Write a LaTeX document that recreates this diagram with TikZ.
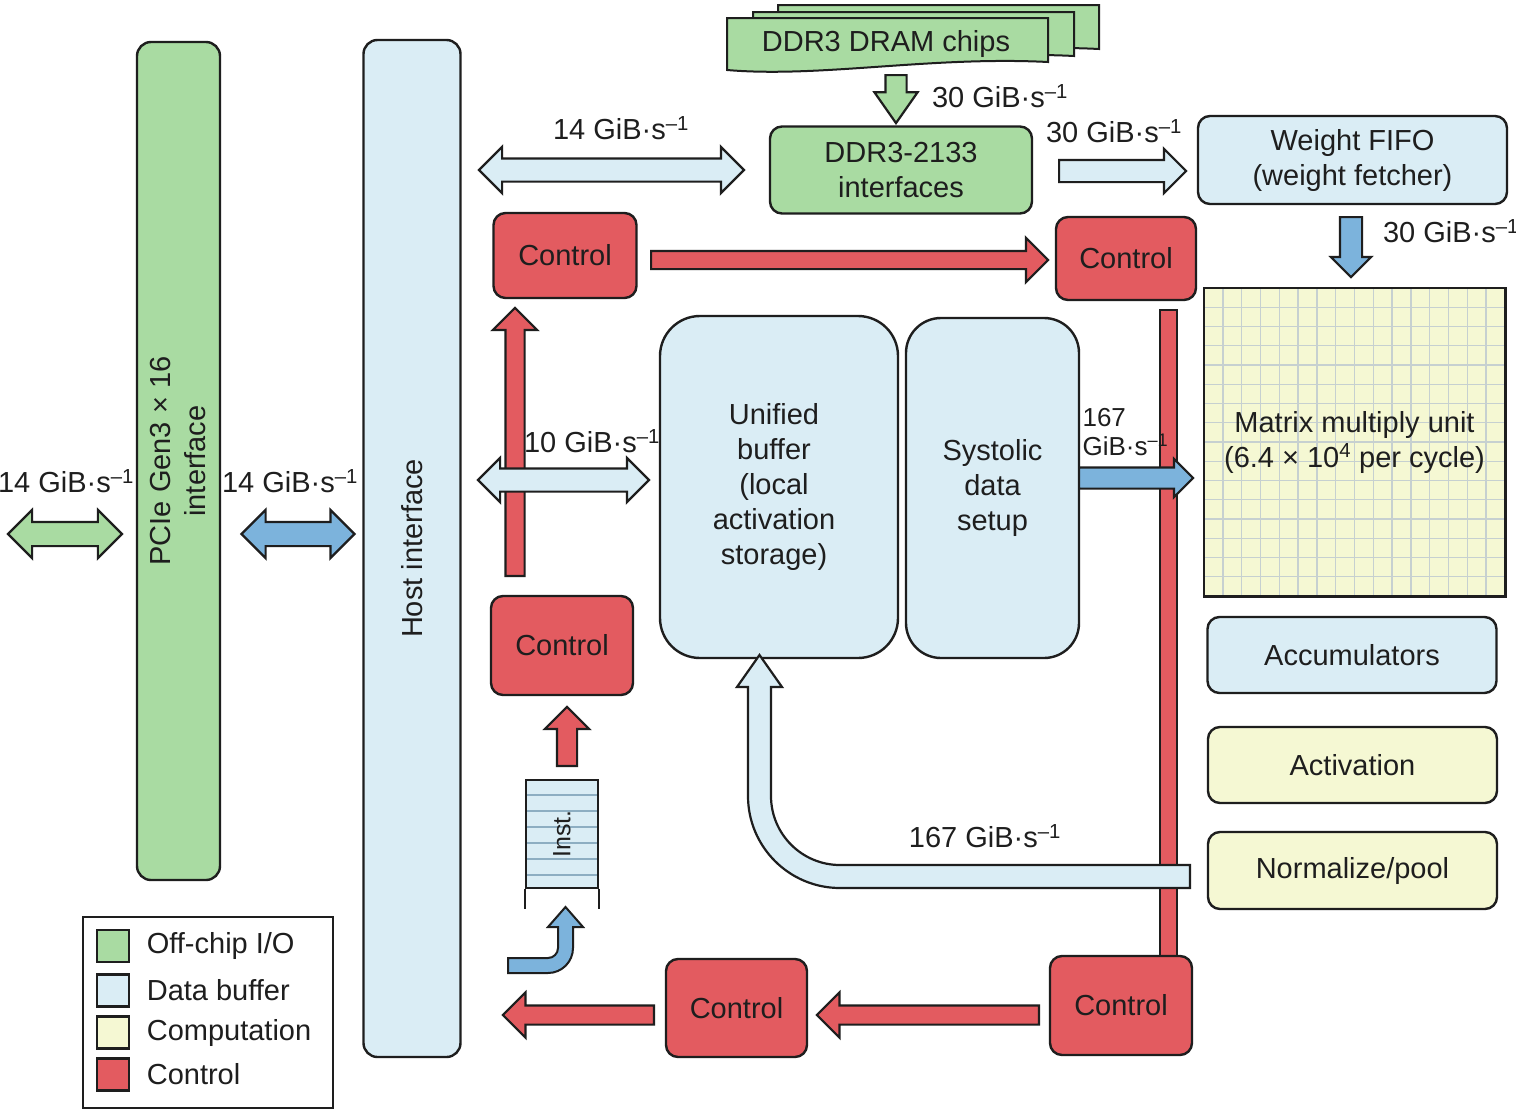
\documentclass[tikz,border=0pt]{standalone}
\usepackage{fontspec}
\setmainfont{Liberation Sans}
\usepackage{xcolor}
\usepackage{tikz}
\usetikzlibrary{arrows.meta,positioning,shapes.arrows}

\definecolor{iogreen}{HTML}{A9DBA2}
\definecolor{bufblue}{HTML}{DAEDF5}
\definecolor{flowblue}{HTML}{7CB3DC}
\definecolor{compyel}{HTML}{F5F8D3}
\definecolor{ctlred}{HTML}{E35B60}
\definecolor{ink}{HTML}{1E1E1E}
\definecolor{gridln}{HTML}{C6D0D0}
\definecolor{instln}{HTML}{8DAEC2}

\newcommand{\rate}[1]{#1 GiB·s\textsuperscript{–1}}

\begin{document}
\begin{tikzpicture}[x=1pt, y=-1pt,
    every node/.style={font=\fontsize{29}{35}\selectfont, text=ink},
    blockbox/.style={draw=ink, line width=2.4pt, rounded corners=12pt, align=center, inner sep=0pt},
    iobox/.style={blockbox, fill=iogreen},
    bufbox/.style={blockbox, fill=bufblue},
    compbox/.style={blockbox, fill=compyel},
    ctlbox/.style={blockbox, fill=ctlred, minimum width=141pt, minimum height=98pt},
    fat/.style={draw=ink, line width=2.2pt, single arrow, inner xsep=0pt, inner ysep=9pt, single arrow head extend=13pt, anchor=tail},
    fatboth/.style={draw=ink, line width=2.2pt, double arrow, inner xsep=0pt, inner ysep=11pt, double arrow head extend=11pt},
    legsq/.style={draw=ink, line width=2.6pt, minimum width=32pt, minimum height=32pt, inner sep=0pt}]

  \path[use as bounding box, fill=white] (0,0) rectangle (1516,1114);

  % host side
  \node[iobox, rotate=90, rounded corners=14pt, minimum width=838pt, minimum height=83pt] (pcie) at (178.5,461) {PCIe Gen3 × 16\\interface};
  \node[bufbox, rotate=90, rounded corners=14pt, minimum width=1017pt, minimum height=97pt] (host) at (412,548.5) {Host interface};
  \node[fatboth, fill=iogreen, minimum height=114pt, double arrow head extend=12pt] (offio) at (65,534) {};
  \node[fatboth, fill=flowblue, minimum height=113pt, double arrow head extend=12pt] (pcihost) at (298,534) {};
  \node (r1) at (66,481) {\rate{14}};
  \node (r2) at (290,481) {\rate{14}};

  % DRAM
  \foreach \dx/\dy in {51/-13, 26/-6, 0/0}
    \draw[fill=iogreen, draw=ink, line width=2pt, shift={(\dx,\dy)}]
      (727,18) -- (1048,18) -- (1048,62) .. controls (930,56) and (820,78) .. (727,70) -- cycle;
  \node (chips) at (886,44) {DDR3 DRAM chips};
  \node[iobox, minimum width=262pt, minimum height=87pt] (ddr) at (901,170) {DDR3-2133\\interfaces};
  \node[fat, fill=iogreen, rotate=-90, minimum height=48pt, inner ysep=9.5pt, single arrow head extend=11pt, single arrow tip angle=70] (chipsddr) at (896,74) {};
  \node (r3) at (1000,96) {\rate{30}};
  \node[fatboth, fill=bufblue, minimum height=265pt, inner ysep=10.5pt, double arrow head extend=11.5pt] (hostddr) at (611.5,170) {};
  \node (r4) at (621,128) {\rate{14}};

  % weights
  \node[bufbox, minimum width=309pt, minimum height=88pt] (wfifo) at (1352.5,160) {Weight FIFO\\(weight fetcher)};
  \node[fat, fill=bufblue, minimum height=127pt, inner ysep=10pt, single arrow head extend=11pt] (ddrwf) at (1058,171) {};
  \node (r5) at (1114,131) {\rate{30}};
  \node[fat, fill=flowblue, rotate=-90, minimum height=60pt, inner ysep=10pt, single arrow head extend=9pt] (wfmmu) at (1351,216) {};
  \node (r6) at (1451,231) {\rate{30}};

  % matrix unit
  \node[fill=compyel, minimum width=301pt, minimum height=308pt, inner sep=0pt] (mmu) at (1354.5,442) {};
  \foreach \k in {1,...,15} {
    \draw[gridln, line width=1.4pt] ({1204+\k*18.8},288) -- ({1204+\k*18.8},596);
    \draw[gridln, line width=1.4pt] (1204,{288+\k*19.25}) -- (1505,{288+\k*19.25});
  }
  \draw[ink, line width=2.6pt] (mmu.north west) rectangle (mmu.south east);
  \node[align=center] (mmutxt) at (mmu.center) {Matrix multiply unit\\(6.4 × 10\textsuperscript{4} per cycle)};
  \node[bufbox, minimum width=289pt, minimum height=76pt] (acc) at (1352,655) {Accumulators};
  \node[compbox, minimum width=289pt, minimum height=76pt] (act) at (1352.5,765) {Activation};
  \node[compbox, minimum width=289pt, minimum height=77pt] (norm) at (1352.5,870.5) {Normalize/pool};

  % control
  \node[ctlbox, minimum height=85pt, minimum width=143pt] (ctl1) at (565,255.5) {Control};
  \node[ctlbox, minimum height=83pt, minimum width=140pt] (ctl2) at (1126,258.5) {Control};
  \node[fat, fill=ctlred, minimum height=397pt, inner ysep=8pt] (ctl12) at (650,260) {};
  \node[draw=ink, line width=2pt, fill=ctlred, minimum width=17pt, minimum height=646pt, inner sep=0pt] (ctlbar) at (1168.5,633) {};
  \node[ctlbox, minimum width=142pt, minimum height=99pt] (ctl5) at (1121,1005.5) {Control};
  \node[fat, fill=ctlred, rotate=90, minimum height=268pt, inner ysep=8.5pt, single arrow head extend=12.5pt] (upctl1) at (515,577) {};
  \node[fatboth, fill=bufblue, minimum height=171pt, inner ysep=10.5pt, double arrow head extend=10.5pt] (hostub) at (563.5,480) {};
  \node (r7) at (592,441) {\rate{10}};

  % buffers
  \node[bufbox, rounded corners=40pt, minimum width=238pt, minimum height=342pt] (ub) at (779,487) {};
  \node (ubtxt) at (774,487) [align=center] {Unified\\buffer\\(local\\activation\\storage)};
  \node[bufbox, rounded corners=35pt, minimum width=173pt, minimum height=340pt] (sys) at (992.5,488) {Systolic\\data\\setup};
  \node[fat, fill=flowblue, minimum height=114pt, inner ysep=9.5pt, single arrow head extend=8.5pt] (sysmmu) at (1078,478) {};
  \node[anchor=west, align=left, font=\fontsize{26}{29}\selectfont] (r8) at (1079,432) {167\\GiB·s\textsuperscript{–1}};
  \draw[fill=bufblue, draw=ink, line width=2.2pt]
    (1190,888) -- (840,888) .. controls (789.2,888) and (748,846.8) .. (748,796)
    -- (748,687) -- (737,687) -- (759.5,655) -- (782,687) -- (771,687)
    -- (771,796) .. controls (771,834.1) and (801.9,865) .. (840,865)
    -- (1190,865) -- cycle;
  \node (r9) at (985,836) {\rate{167}};

  % instructions
  \node[ctlbox, minimum width=142pt, minimum height=99pt] (ctl3) at (562,645.5) {Control};
  \node[fat, fill=ctlred, rotate=90, minimum height=59pt, inner ysep=9pt, single arrow head extend=12pt] (instctl3) at (567,767) {};
  \fill[bufblue] (526,780) rectangle (598,888);
  \foreach \yy in {795,811,...,875}
    \draw[instln, line width=2pt] (526,\yy) -- (598,\yy);
  \node[draw=ink, line width=2pt, minimum width=72pt, minimum height=108pt, inner sep=0pt] (inst) at (562,834) {};
  \node[rotate=90, font=\fontsize{25}{30}\selectfont] (insttxt) at (inst.center) {Inst.};
  \draw[ink, line width=2pt] (inst.south west) -- ++(0,20);
  \draw[ink, line width=2pt] (inst.south east) -- ++(0,20);
  \draw[fill=flowblue, draw=ink, line width=2pt]
    (508,958) -- (548,958) .. controls (553.5,958) and (558,953.5) .. (558,948)
    -- (558,927) -- (548,927) -- (565.5,907) -- (583,927) -- (573,927)
    -- (573,948) .. controls (573,961.8) and (561.8,973) .. (548,973)
    -- (508,973) -- cycle;

  % bottom control chain
  \node[ctlbox, minimum width=141pt, minimum height=98pt] (ctl4) at (736.5,1008) {Control};
  \node[fat, fill=ctlred, rotate=180, minimum height=222pt, inner ysep=8.5pt] (ctl54) at (1040,1015) {};
  \node[fat, fill=ctlred, rotate=180, minimum height=151pt, inner ysep=8.5pt] (ctl4out) at (655,1015) {};

  % legend
  \node[draw=ink, line width=2pt, minimum width=250pt, minimum height=191pt, inner sep=0pt] (legend) at (208,1012) {};
  \node[legsq, fill=iogreen] (lg1) at (113,946) {};
  \node[legsq, fill=bufblue] (lg2) at (113,990.5) {};
  \node[legsq, fill=compyel] (lg3) at (113,1032.5) {};
  \node[legsq, fill=ctlred] (lg4) at (113,1074.5) {};
  \node[right=13pt of lg1] (lt1) {Off-chip I/O};
  \node[right=13pt of lg2] (lt2) {Data buffer};
  \node[right=13pt of lg3] (lt3) {Computation};
  \node[right=13pt of lg4] (lt4) {Control};
\end{tikzpicture}
\end{document}
